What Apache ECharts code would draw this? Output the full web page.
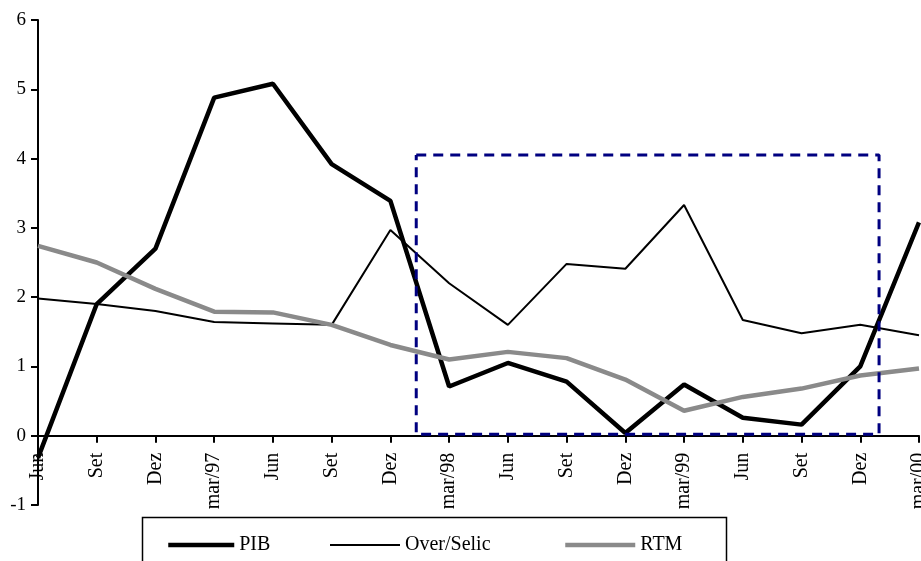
<!DOCTYPE html>
<html>
<head>
<meta charset="utf-8">
<script src="https://cdn.jsdelivr.net/npm/echarts@6/dist/echarts.min.js"></script>
<style>html,body{margin:0;padding:0;background:#fff}#c{width:921px;height:561px}</style>
</head>
<body>
<div id="c"></div>
<script>
var categories = ['Jun','Set','Dez','mar/97','Jun','Set','Dez','mar/98','Jun','Set','Dez','mar/99','Jun','Set','Dez','mar/00'];
var pib =   [-0.32, 1.90, 2.70, 4.88, 5.08, 3.92, 3.39, 0.71, 1.05, 0.78, 0.04, 0.74, 0.26, 0.16, 1.00, 3.08];
var selic = [1.98, 1.90, 1.80, 1.64, 1.62, 1.60, 2.97, 2.20, 1.60, 2.48, 2.41, 3.33, 1.67, 1.48, 1.60, 1.45];
var rtm =   [2.74, 2.50, 2.12, 1.79, 1.78, 1.60, 1.31, 1.10, 1.21, 1.12, 0.81, 0.36, 0.56, 0.68, 0.87, 0.97];
var yTicks = [-1, 0, 1, 2, 3, 4, 5, 6];
// highlighted window (category index position, value)
var boxX = [6.44, 14.32];
var boxY = [0.02, 4.05];
var boxPath = [[boxX[0], boxY[1]], [boxX[1], boxY[1]], [boxX[1], boxY[0]], [boxX[0], boxY[0]], [boxX[0], boxY[1]]];

var W = 921, H = 561;
var gridL = 38, gridR = 2, gridT = 20, gridB = 56;
var yMin = yTicks[0], yMax = yTicks[yTicks.length - 1];
var plotH = H - gridT - gridB;
var zeroOffset = -plotH * (0 - yMin) / (yMax - yMin);

var font = 'Liberation Serif';
var noSym = {color: 'transparent', borderColor: 'transparent', borderWidth: 0};
var chart = echarts.init(document.getElementById('c'));
chart.setOption({
  animation: false,
  backgroundColor: '#fff',
  grid: {left: gridL, right: gridR, top: gridT, bottom: gridB, containLabel: false, outerBoundsMode: 'none'},
  xAxis: [{
    type: 'category', data: categories, boundaryGap: false, position: 'bottom', offset: zeroOffset,
    axisLine: {onZero: false, lineStyle: {color: '#000', width: 2}},
    axisTick: {show: true, length: 7, alignWithLabel: true, lineStyle: {color: '#000', width: 2}},
    axisLabel: {rotate: 90, margin: 17, color: '#000', fontFamily: font, fontSize: 20, interval: 0, hideOverlap: false},
    splitLine: {show: false}
  }, {
    type: 'value', min: 0, max: categories.length - 1, show: false
  }],
  yAxis: {
    type: 'value', min: yMin, max: yMax, interval: 1,
    axisLine: {show: true, lineStyle: {color: '#000', width: 2}},
    axisTick: {show: true, length: 7, lineStyle: {color: '#000', width: 2}},
    axisLabel: {color: '#000', fontFamily: font, fontSize: 19, margin: 12},
    splitLine: {show: false}
  },
  legend: [
    {data: ['PIB'], left: 166, top: 535, itemWidth: 66, itemHeight: 14, padding: 0, itemStyle: noSym, lineStyle: {width: 4.5, color: '#000'}, textStyle: {fontFamily: font, fontSize: 20, color: '#000'}},
    {data: ['Over/Selic'], left: 329, top: 535, itemWidth: 70, itemHeight: 14, padding: 0, itemStyle: noSym, lineStyle: {width: 2, color: '#000'}, textStyle: {fontFamily: font, fontSize: 20, color: '#000'}},
    {data: ['RTM'], left: 563, top: 535, itemWidth: 70, itemHeight: 14, padding: 0, itemStyle: noSym, lineStyle: {width: 4.5, color: '#8a8a8a'}, textStyle: {fontFamily: font, fontSize: 20, color: '#000'}}
  ],
  graphic: [{
    type: 'rect', shape: {x: 142.5, y: 517.5, width: 584, height: 80},
    style: {fill: 'none', stroke: '#000', lineWidth: 1.5}, silent: true
  }],
  series: [
    {name: 'PIB', type: 'line', data: pib, symbol: 'none', lineStyle: {color: '#000', width: 4.5}, itemStyle: {color: '#000'}},
    {name: 'Over/Selic', type: 'line', data: selic, symbol: 'none', lineStyle: {color: '#000', width: 2}, itemStyle: {color: '#000'}},
    {name: 'RTM', type: 'line', data: rtm, symbol: 'none', lineStyle: {color: '#8a8a8a', width: 4.5}, itemStyle: {color: '#8a8a8a'}},
    {name: 'box', type: 'line', xAxisIndex: 1, data: boxPath, symbol: 'none', silent: true,
     lineStyle: {color: '#000080', width: 3, type: [10, 7]}, z: 5}
  ]
});
</script>
</body>
</html>
